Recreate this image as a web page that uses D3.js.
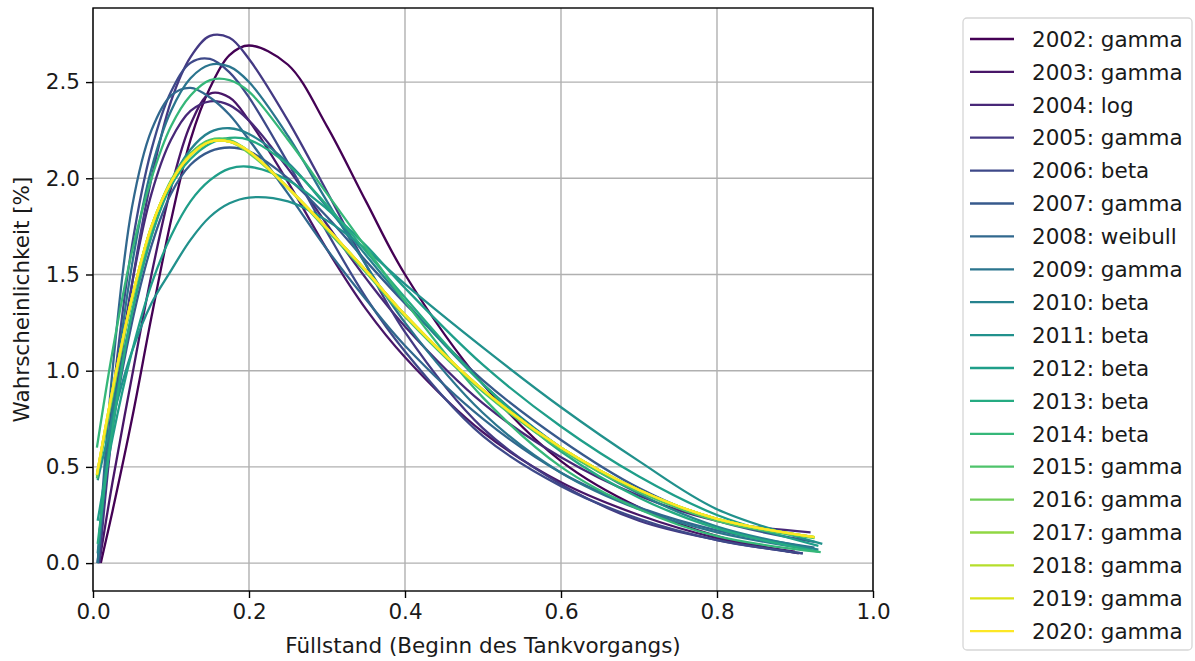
<!DOCTYPE html>
<html>
<head>
<meta charset="utf-8">
<script src="https://cdn.jsdelivr.net/npm/d3@7"></script>
<style>
  body { margin: 0; background: #fff; }
  text { font-family: "DejaVu Sans", sans-serif; fill: #1a1a1a; }
</style>
</head>
<body>
<svg id="chart"></svg>
<script>
// years and fitted distribution per year (legend labels)
const years = [2002, 2003, 2004, 2005, 2006, 2007, 2008, 2009, 2010, 2011,
               2012, 2013, 2014, 2015, 2016, 2017, 2018, 2019, 2020];
const distNames = ["gamma", "gamma", "log", "gamma", "beta", "gamma", "weibull", "gamma", "beta", "beta",
                   "beta", "beta", "beta", "gamma", "gamma", "gamma", "gamma", "gamma", "gamma"];

// x positions: first point, common grid, last point
const xStart = [0.010, 0.008, 0.008, 0.008, 0.006, 0.008, 0.006, 0.006, 0.006, 0.006,
                0.006, 0.006, 0.005, 0.005, 0.005, 0.005, 0.005, 0.005, 0.005];
const xGrid = [0.025, 0.05, 0.075, 0.1, 0.125, 0.15, 0.175, 0.2, 0.25, 0.3, 0.35, 0.4, 0.5, 0.6, 0.7, 0.8];
const xEnd = [0.905, 0.900, 0.920, 0.910, 0.910, 0.925, 0.925, 0.920, 0.930, 0.935,
              0.930, 0.930, 0.933, 0.925, 0.925, 0.925, 0.925, 0.925, 0.925];

// probability [%]: start, grid..., end
const p2002 = [0.00, 0.27, 0.75, 1.28, 1.78, 2.20, 2.47, 2.64, 2.69, 2.59, 2.27, 1.88, 1.50, 0.93, 0.53, 0.29, 0.14, 0.05];
const p2003 = [0.00, 0.42, 0.97, 1.50, 1.95, 2.28, 2.44, 2.42, 2.30, 1.98, 1.63, 1.32, 1.07, 0.68, 0.42, 0.25, 0.13, 0.06];
const p2004 = [0.05, 0.75, 1.45, 1.92, 2.20, 2.35, 2.40, 2.38, 2.30, 2.05, 1.76, 1.48, 1.23, 0.83, 0.55, 0.35, 0.22, 0.16];
const p2005 = [0.00, 0.70, 1.45, 2.00, 2.40, 2.63, 2.74, 2.73, 2.62, 2.30, 1.93, 1.55, 1.20, 0.70, 0.41, 0.22, 0.12, 0.05];
const p2006 = [0.00, 0.85, 1.65, 2.15, 2.45, 2.60, 2.62, 2.55, 2.42, 2.08, 1.72, 1.38, 1.10, 0.66, 0.40, 0.23, 0.12, 0.05];
const p2007 = [0.15, 0.70, 1.25, 1.65, 1.92, 2.07, 2.14, 2.16, 2.14, 2.00, 1.80, 1.57, 1.35, 0.95, 0.64, 0.39, 0.22, 0.11];
const p2008 = [0.00, 1.00, 1.85, 2.25, 2.43, 2.47, 2.42, 2.33, 2.20, 1.92, 1.63, 1.37, 1.13, 0.75, 0.47, 0.29, 0.17, 0.08];
const p2009 = [0.00, 0.80, 1.55, 2.05, 2.35, 2.52, 2.59, 2.58, 2.50, 2.22, 1.88, 1.55, 1.25, 0.78, 0.47, 0.28, 0.16, 0.07];
const p2010 = [0.05, 0.75, 1.30, 1.70, 1.98, 2.15, 2.24, 2.26, 2.23, 2.08, 1.85, 1.60, 1.36, 0.93, 0.60, 0.36, 0.19, 0.07];
const p2011 = [0.43, 0.75, 1.10, 1.35, 1.52, 1.68, 1.80, 1.87, 1.90, 1.88, 1.78, 1.63, 1.45, 1.12, 0.81, 0.53, 0.28, 0.10];
const p2012 = [0.22, 0.65, 1.10, 1.45, 1.70, 1.88, 1.99, 2.05, 2.06, 1.99, 1.84, 1.65, 1.43, 1.03, 0.71, 0.45, 0.25, 0.09];
const p2013 = [0.10, 0.70, 1.30, 1.70, 1.96, 2.10, 2.18, 2.21, 2.20, 2.07, 1.86, 1.62, 1.38, 0.93, 0.58, 0.34, 0.18, 0.06];
const p2014 = [0.60, 1.10, 1.62, 2.00, 2.27, 2.43, 2.51, 2.51, 2.45, 2.20, 1.92, 1.64, 1.36, 0.86, 0.50, 0.28, 0.14, 0.057];
const p2015 = [0.44, 0.87, 1.36, 1.74, 1.99, 2.13, 2.20, 2.20, 2.14, 1.95, 1.73, 1.51, 1.28, 0.89, 0.59, 0.37, 0.22, 0.13];
const p2016 = [0.45, 0.88, 1.37, 1.75, 1.98, 2.12, 2.19, 2.19, 2.13, 1.95, 1.74, 1.52, 1.29, 0.90, 0.60, 0.38, 0.23, 0.135];
const p2017 = [0.46, 0.89, 1.38, 1.75, 1.98, 2.12, 2.19, 2.19, 2.14, 1.95, 1.74, 1.52, 1.29, 0.90, 0.60, 0.38, 0.23, 0.135];
const p2018 = [0.46, 0.90, 1.38, 1.75, 1.98, 2.12, 2.19, 2.19, 2.14, 1.95, 1.74, 1.52, 1.29, 0.90, 0.60, 0.38, 0.23, 0.135];
const p2019 = [0.46, 0.90, 1.38, 1.75, 1.98, 2.12, 2.19, 2.19, 2.14, 1.95, 1.74, 1.52, 1.29, 0.90, 0.60, 0.38, 0.23, 0.135];
const p2020 = [0.46, 0.90, 1.38, 1.75, 1.98, 2.12, 2.19, 2.19, 2.14, 1.95, 1.74, 1.52, 1.29, 0.90, 0.60, 0.38, 0.23, 0.135];

const yValues = [p2002, p2003, p2004, p2005, p2006, p2007, p2008, p2009, p2010, p2011,
                 p2012, p2013, p2014, p2015, p2016, p2017, p2018, p2019, p2020];

const xTicks = [0, 0.2, 0.4, 0.6, 0.8, 1.0];
const yTicks = [0, 0.5, 1.0, 1.5, 2.0, 2.5];

const width = 1195, height = 661;
const margin = { top: 8, right: 322, bottom: 70, left: 93 };
const plotW = width - margin.left - margin.right;
const plotH = height - margin.top - margin.bottom;
const fontSize = "21.5px";

const svg = d3.select("#chart").attr("width", width).attr("height", height);

// build series objects
const series = years.map((yr, i) => {
  const xs = [xStart[i]].concat(xGrid, [xEnd[i]]);
  return {
    label: yr + ": " + distNames[i],
    color: d3.interpolateViridis(i / (years.length - 1)),
    points: xs.map((x, j) => ({ x: x, y: yValues[i][j] }))
  };
});

const xScale = d3.scaleLinear().domain([0, 1]).range([0, plotW]);
const yScale = d3.scaleLinear().domain([-0.145, 2.885]).range([plotH, 0]);

const chart = svg.append("g").attr("transform", `translate(${margin.left},${margin.top})`);

chart.append("clipPath").attr("id", "clip")
  .append("rect").attr("width", plotW).attr("height", plotH);

// grid
chart.append("g").selectAll("line").data(xTicks).join("line")
  .attr("x1", d => xScale(d)).attr("x2", d => xScale(d))
  .attr("y1", 0).attr("y2", plotH)
  .attr("stroke", "#b0b0b0").attr("stroke-width", 1.4);
chart.append("g").selectAll("line").data(yTicks).join("line")
  .attr("y1", d => yScale(d)).attr("y2", d => yScale(d))
  .attr("x1", 0).attr("x2", plotW)
  .attr("stroke", "#b0b0b0").attr("stroke-width", 1.4);

// curves
const line = d3.line()
  .x(d => xScale(d.x))
  .y(d => yScale(d.y))
  .curve(d3.curveCatmullRom.alpha(0.5));

chart.append("g").attr("clip-path", "url(#clip)")
  .selectAll("path").data(series).join("path")
  .attr("fill", "none")
  .attr("stroke", d => d.color)
  .attr("stroke-width", 2.3)
  .attr("d", d => line(d.points));

// axes
const xAxis = d3.axisBottom(xScale).tickValues(xTicks).tickFormat(d3.format(".1f")).tickSize(7).tickPadding(6);
const yAxis = d3.axisLeft(yScale).tickValues(yTicks).tickFormat(d3.format(".1f")).tickSize(7).tickPadding(6);

const xAxisG = chart.append("g").attr("transform", `translate(0,${plotH})`).call(xAxis);
const yAxisG = chart.append("g").call(yAxis);
[xAxisG, yAxisG].forEach(g => {
  g.select(".domain").remove();
  g.selectAll(".tick line").attr("stroke", "#000").attr("stroke-width", 1.4);
  g.selectAll(".tick text").style("font-size", fontSize).attr("fill", "#1a1a1a");
});

// frame
chart.append("rect")
  .attr("width", plotW).attr("height", plotH)
  .attr("fill", "none").attr("stroke", "#000").attr("stroke-width", 1.4);

// axis labels
svg.append("text")
  .attr("x", margin.left + plotW / 2).attr("y", 653)
  .attr("text-anchor", "middle").style("font-size", fontSize)
  .text("Füllstand (Beginn des Tankvorgangs)");

svg.append("text")
  .attr("transform", `translate(29,${margin.top + plotH / 2}) rotate(-90)`)
  .attr("text-anchor", "middle").style("font-size", fontSize)
  .text("Wahrscheinlichkeit [%]");

// legend
const legend = svg.append("g").attr("transform", "translate(963,18)");
legend.append("rect")
  .attr("width", 229).attr("height", 632).attr("rx", 4)
  .attr("fill", "#fff").attr("stroke", "#d6d6d6").attr("stroke-width", 1.3);

const rowH = 32.9;
const items = legend.selectAll("g.item").data(series).join("g")
  .attr("class", "item")
  .attr("transform", (d, i) => `translate(0,${21 + i * rowH})`);
items.append("line")
  .attr("x1", 7).attr("x2", 51)
  .attr("stroke", d => d.color).attr("stroke-width", 2.3);
items.append("text")
  .attr("x", 69).attr("dy", "0.36em")
  .style("font-size", fontSize)
  .text(d => d.label);
</script>
</body>
</html>
